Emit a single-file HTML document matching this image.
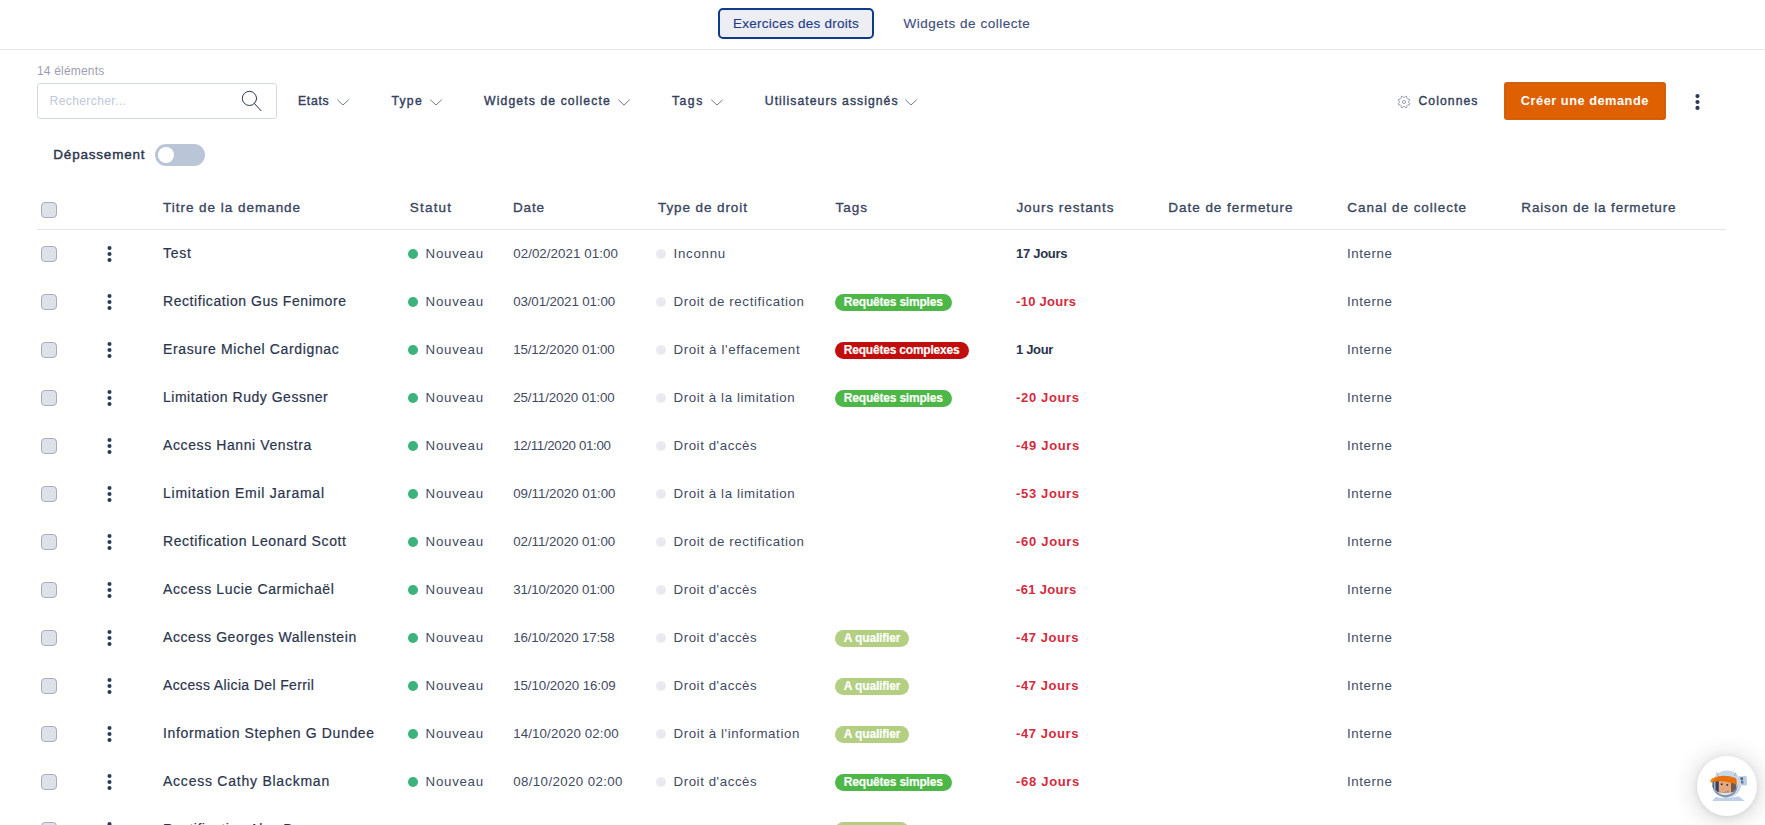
<!DOCTYPE html><html><head><meta charset="utf-8"><title>Exercices des droits</title><style>
html,body{margin:0;padding:0;background:#fff}
body{width:1765px;height:825px;overflow:hidden;position:relative;font-family:"Liberation Sans",sans-serif}
.t{position:absolute;white-space:nowrap;margin:0;padding:0}

.tab{font-size:13.5px;font-weight:400;color:#1f3d86;line-height:16px;height:16px;-webkit-text-stroke:0.15px #1f3d86}
.tab2{font-size:13.5px;font-weight:400;color:#434e7c;line-height:16px;height:16px;-webkit-text-stroke:0.15px #434e7c}
.count{font-size:12px;font-weight:400;color:#9f9db3;line-height:14px;height:14px}
.ph{font-size:12px;font-weight:400;color:#c0c8da;line-height:14px;height:14px}
.flt{font-size:12.2px;font-weight:400;color:#34405c;line-height:16px;height:16px;-webkit-text-stroke:0.4px #34405c}
.btn{font-size:12.8px;font-weight:700;color:#ffffff;line-height:16px;height:16px}
.dep{font-size:13.5px;font-weight:400;color:#2b344d;line-height:16px;height:16px;-webkit-text-stroke:0.4px #2b344d}
.th{font-size:13.5px;font-weight:400;color:#3a4560;line-height:16px;height:16px;-webkit-text-stroke:0.35px #3a4560}
.title{font-size:14px;font-weight:400;color:#2b344d;line-height:16px;height:16px;-webkit-text-stroke:0.2px #2b344d}
.cell{font-size:13.3px;font-weight:400;color:#3f4a63;line-height:16px;height:16px}
.tag{font-size:12px;font-weight:700;color:#ffffff;line-height:14px;height:14px;-webkit-text-stroke:0.15px #ffffff}
.jr{font-size:13px;font-weight:700;color:#d42a40;line-height:16px;height:16px}
.jb{font-size:13px;font-weight:700;color:#2b344d;line-height:16px;height:16px}
.abs{position:absolute}
.topline{position:absolute;left:0;top:49px;width:1765px;height:1px;background:#e6e6ef}
.tabbtn{position:absolute;left:718px;top:8px;width:152px;height:27px;border:2px solid #0f3c86;border-radius:5px;background:#ededf4}
.search{position:absolute;left:37px;top:83px;width:238px;height:34px;border:1px solid #d4d8e1;border-radius:3px;background:#fff}
.cbtn{position:absolute;left:1504px;top:82px;width:162px;height:38px;border-radius:3px;background:#de6000}
.cbtn:after{content:"";position:absolute;left:1px;top:1px;right:1px;bottom:1px;border:1px solid rgba(120,100,80,.24);border-radius:2px}
.toggle{position:absolute;left:155px;top:144px;width:50px;height:22px;border-radius:11px;background:#bac5d7}
.toggle i{position:absolute;left:3px;top:3px;width:16px;height:16px;border-radius:8px;background:#fff}
.hline{position:absolute;left:37px;top:229px;width:1689px;height:1px;background:#e3e5ec}
.cb{position:absolute;left:41px;width:14px;height:14px;border:1px solid #a6aebc;border-radius:4px;background:#dee2e8}
.kbs{fill:#2b3a59}
.kb{position:absolute;width:4px;height:17px}
.kb i{display:block;width:4px;height:4px;border-radius:2px;background:#2c3850;margin-bottom:2.3px}
.dot{position:absolute;width:10px;height:10px;border-radius:5px}
.dot.g{background:#3cb37d}
.dot.y{background:#e9e9ef}
.pill{position:absolute;height:17px;border-radius:8.5px}
.chat{position:absolute;left:1697px;top:756px;width:60px;height:60px;border-radius:30px;background:#fff;box-shadow:0 1px 6px rgba(0,0,0,.08),0 2px 26px rgba(0,0,0,.2)}
svg{position:absolute;overflow:visible}

</style></head><body>
<div class="topline"></div>
<div class="tabbtn"></div>
<div class="search"></div>
<svg style="left:240px;top:89px" width="24" height="24" viewBox="0 0 24 24" fill="none" stroke="#2a3350" stroke-width="1" stroke-linecap="round"><circle cx="9.45" cy="9.4" r="7.1"/><path d="M14.5 14.6 L21 21.7"/></svg>
<svg style="left:337px;top:98.8px" width="12" height="7" viewBox="0 0 12 7" fill="none" stroke="#717a90" stroke-width="1" stroke-linecap="round" stroke-linejoin="round"><path d="M0.6 1 L6 6 L11.4 1"/></svg>
<svg style="left:429.5px;top:98.8px" width="12" height="7" viewBox="0 0 12 7" fill="none" stroke="#717a90" stroke-width="1" stroke-linecap="round" stroke-linejoin="round"><path d="M0.6 1 L6 6 L11.4 1"/></svg>
<svg style="left:618px;top:98.8px" width="12" height="7" viewBox="0 0 12 7" fill="none" stroke="#717a90" stroke-width="1" stroke-linecap="round" stroke-linejoin="round"><path d="M0.6 1 L6 6 L11.4 1"/></svg>
<svg style="left:710.5px;top:98.8px" width="12" height="7" viewBox="0 0 12 7" fill="none" stroke="#717a90" stroke-width="1" stroke-linecap="round" stroke-linejoin="round"><path d="M0.6 1 L6 6 L11.4 1"/></svg>
<svg style="left:905px;top:98.8px" width="12" height="7" viewBox="0 0 12 7" fill="none" stroke="#717a90" stroke-width="1" stroke-linecap="round" stroke-linejoin="round"><path d="M0.6 1 L6 6 L11.4 1"/></svg>
<svg style="left:1398px;top:95.7px" width="12" height="12" viewBox="0 0 12 12" fill="none" stroke="#7d839c" stroke-width="0.75" stroke-linejoin="round"><circle cx="6" cy="6" r="1.6"/><path d="M6.74 1.36 L7.54 0.20 L9.01 0.81 L8.76 2.20 L9.80 3.24 L11.19 2.99 L11.80 4.46 L10.64 5.26 L10.64 6.74 L11.80 7.54 L11.19 9.01 L9.80 8.76 L8.76 9.80 L9.01 11.19 L7.54 11.80 L6.74 10.64 L5.26 10.64 L4.46 11.80 L2.99 11.19 L3.24 9.80 L2.20 8.76 L0.81 9.01 L0.20 7.54 L1.36 6.74 L1.36 5.26 L0.20 4.46 L0.81 2.99 L2.20 3.24 L3.24 2.20 L2.99 0.81 L4.46 0.20 L5.26 1.36Z"/></svg>
<div class="cbtn"></div>
<svg class="kbs" style="left:1695.3px;top:93.1px" width="5" height="18" viewBox="0 0 5 18"><circle cx="2.5" cy="3.1" r="2.1"/><circle cx="2.5" cy="9" r="2.1"/><circle cx="2.5" cy="14.9" r="2.1"/></svg>
<div class="toggle"><i></i></div>
<div class="cb" style="top:201.5px"></div>
<div class="hline"></div>
<div class="chat"></div>
<svg style="left:1705px;top:765px" width="46" height="40" viewBox="0 0 46 40">
<path d="M33.6 11.6 L40.6 10.9 Q41.6 10.9 41.7 11.9 L42 19.4 Q42 20.3 41 20.4 L34 20.6Z" fill="#bccde3"/>
<path d="M35.2 12.6 l2.7 -.3 .2 2.7 -2.7 .2z" fill="#566787"/>
<path d="M35.7 16 l2.6 -.2 .2 2.6 -2.6 .2z" fill="#62728f"/>
<path d="M7.4 35.9 L10.6 32 Q21.5 34.4 33.5 31.2 L39.9 35.9 Z" fill="#bdd0e8"/>
<ellipse cx="21.8" cy="19.1" rx="14.5" ry="13.7" fill="#c8d7ea"/>
<path d="M11.5 7.4 L12.8 10.6 M31.1 7.7 L29.2 11" stroke="#7d8da3" stroke-width="0.7" fill="none"/>
<path d="M7.6 20 Q7.6 30.4 20.5 32.4 Q32.2 31 32.6 20 Z" fill="#8594a6"/>
<path d="M7.2 15 Q7.2 28.6 20.4 30.3 Q32 29 31.9 16 Z" fill="#dce6f2"/>
<path d="M7.6 14.5 L31 14.5 L31 22 Q30 27.2 20.4 27.9 Q9.4 27.2 7.6 22 Z" fill="#46536d"/>
<rect x="8.8" y="15" width="1.9" height="11" fill="#a3b0c2"/>
<rect x="13.6" y="14.8" width="12.4" height="12.9" fill="#eba77c"/>
<path d="M26 15 h5 v8.4 q-1.4 3.4 -5 4z" fill="#6e5c53"/>
<path d="M10.7 15 h2.9 v12.4 q-2 -.8 -2.9 -2.6z" fill="#34425f"/>
<circle cx="16.7" cy="19.3" r="0.95" fill="#1f2d4f"/><circle cx="22.3" cy="19.9" r="0.95" fill="#1f2d4f"/>
<path d="M17.6 23.6 l.9 .3" stroke="#c47c5a" stroke-width="0.6"/>
<path d="M13.8 25 l1 1.6 M20.6 26.6 l3.6 -.3" stroke="#7f93b0" stroke-width="0.9" fill="none"/>
<path d="M5.8 17.6 Q5 14.6 8 13.2 Q18.5 8.4 30.6 13.1 Q31.8 13.8 31.8 19.9 Q19 13.9 5.8 17.6Z" fill="#e6700a"/>
<path d="M5.8 17.6 Q5 14.6 8 13.2 Q12.5 11.2 17 10.7 Q9.6 13 5.8 17.6Z" fill="#f28d14"/>
</svg>

<div class="cb" style="top:246.0px"></div>
<svg class="kbs" style="left:106.5px;top:245.0px" width="5" height="18" viewBox="0 0 5 18"><circle cx="2.5" cy="3" r="2.05"/><circle cx="2.5" cy="9" r="2.05"/><circle cx="2.5" cy="15" r="2.05"/></svg>
<div class="dot g" style="top:248.5px;left:408px"></div>
<div class="dot y" style="top:248.5px;left:656.2px"></div>
<div class="pill" style="left:834.9px;top:293.5px;width:117.1px;background:#4db748"></div>
<div class="cb" style="top:294.0px"></div>
<svg class="kbs" style="left:106.5px;top:293.0px" width="5" height="18" viewBox="0 0 5 18"><circle cx="2.5" cy="3" r="2.05"/><circle cx="2.5" cy="9" r="2.05"/><circle cx="2.5" cy="15" r="2.05"/></svg>
<div class="dot g" style="top:296.5px;left:408px"></div>
<div class="dot y" style="top:296.5px;left:656.2px"></div>
<div class="pill" style="left:834.9px;top:341.5px;width:133.9px;background:#c20d0d"></div>
<div class="cb" style="top:342.0px"></div>
<svg class="kbs" style="left:106.5px;top:341.0px" width="5" height="18" viewBox="0 0 5 18"><circle cx="2.5" cy="3" r="2.05"/><circle cx="2.5" cy="9" r="2.05"/><circle cx="2.5" cy="15" r="2.05"/></svg>
<div class="dot g" style="top:344.5px;left:408px"></div>
<div class="dot y" style="top:344.5px;left:656.2px"></div>
<div class="pill" style="left:834.9px;top:389.5px;width:117.1px;background:#4db748"></div>
<div class="cb" style="top:390.0px"></div>
<svg class="kbs" style="left:106.5px;top:389.0px" width="5" height="18" viewBox="0 0 5 18"><circle cx="2.5" cy="3" r="2.05"/><circle cx="2.5" cy="9" r="2.05"/><circle cx="2.5" cy="15" r="2.05"/></svg>
<div class="dot g" style="top:392.5px;left:408px"></div>
<div class="dot y" style="top:392.5px;left:656.2px"></div>
<div class="cb" style="top:438.0px"></div>
<svg class="kbs" style="left:106.5px;top:437.0px" width="5" height="18" viewBox="0 0 5 18"><circle cx="2.5" cy="3" r="2.05"/><circle cx="2.5" cy="9" r="2.05"/><circle cx="2.5" cy="15" r="2.05"/></svg>
<div class="dot g" style="top:440.5px;left:408px"></div>
<div class="dot y" style="top:440.5px;left:656.2px"></div>
<div class="cb" style="top:486.0px"></div>
<svg class="kbs" style="left:106.5px;top:485.0px" width="5" height="18" viewBox="0 0 5 18"><circle cx="2.5" cy="3" r="2.05"/><circle cx="2.5" cy="9" r="2.05"/><circle cx="2.5" cy="15" r="2.05"/></svg>
<div class="dot g" style="top:488.5px;left:408px"></div>
<div class="dot y" style="top:488.5px;left:656.2px"></div>
<div class="cb" style="top:534.0px"></div>
<svg class="kbs" style="left:106.5px;top:533.0px" width="5" height="18" viewBox="0 0 5 18"><circle cx="2.5" cy="3" r="2.05"/><circle cx="2.5" cy="9" r="2.05"/><circle cx="2.5" cy="15" r="2.05"/></svg>
<div class="dot g" style="top:536.5px;left:408px"></div>
<div class="dot y" style="top:536.5px;left:656.2px"></div>
<div class="cb" style="top:582.0px"></div>
<svg class="kbs" style="left:106.5px;top:581.0px" width="5" height="18" viewBox="0 0 5 18"><circle cx="2.5" cy="3" r="2.05"/><circle cx="2.5" cy="9" r="2.05"/><circle cx="2.5" cy="15" r="2.05"/></svg>
<div class="dot g" style="top:584.5px;left:408px"></div>
<div class="dot y" style="top:584.5px;left:656.2px"></div>
<div class="pill" style="left:834.9px;top:629.5px;width:74.0px;background:#b4cf82"></div>
<div class="cb" style="top:630.0px"></div>
<svg class="kbs" style="left:106.5px;top:629.0px" width="5" height="18" viewBox="0 0 5 18"><circle cx="2.5" cy="3" r="2.05"/><circle cx="2.5" cy="9" r="2.05"/><circle cx="2.5" cy="15" r="2.05"/></svg>
<div class="dot g" style="top:632.5px;left:408px"></div>
<div class="dot y" style="top:632.5px;left:656.2px"></div>
<div class="pill" style="left:834.9px;top:677.5px;width:74.0px;background:#b4cf82"></div>
<div class="cb" style="top:678.0px"></div>
<svg class="kbs" style="left:106.5px;top:677.0px" width="5" height="18" viewBox="0 0 5 18"><circle cx="2.5" cy="3" r="2.05"/><circle cx="2.5" cy="9" r="2.05"/><circle cx="2.5" cy="15" r="2.05"/></svg>
<div class="dot g" style="top:680.5px;left:408px"></div>
<div class="dot y" style="top:680.5px;left:656.2px"></div>
<div class="pill" style="left:834.9px;top:725.5px;width:74.0px;background:#b4cf82"></div>
<div class="cb" style="top:726.0px"></div>
<svg class="kbs" style="left:106.5px;top:725.0px" width="5" height="18" viewBox="0 0 5 18"><circle cx="2.5" cy="3" r="2.05"/><circle cx="2.5" cy="9" r="2.05"/><circle cx="2.5" cy="15" r="2.05"/></svg>
<div class="dot g" style="top:728.5px;left:408px"></div>
<div class="dot y" style="top:728.5px;left:656.2px"></div>
<div class="pill" style="left:834.9px;top:773.5px;width:117.1px;background:#4db748"></div>
<div class="cb" style="top:774.0px"></div>
<svg class="kbs" style="left:106.5px;top:773.0px" width="5" height="18" viewBox="0 0 5 18"><circle cx="2.5" cy="3" r="2.05"/><circle cx="2.5" cy="9" r="2.05"/><circle cx="2.5" cy="15" r="2.05"/></svg>
<div class="dot g" style="top:776.5px;left:408px"></div>
<div class="dot y" style="top:776.5px;left:656.2px"></div>
<div class="pill" style="left:834.9px;top:821.5px;width:74.0px;background:#b4cf82"></div>
<div class="cb" style="top:822.0px"></div>
<svg class="kbs" style="left:106.5px;top:821.0px" width="5" height="18" viewBox="0 0 5 18"><circle cx="2.5" cy="3" r="2.05"/><circle cx="2.5" cy="9" r="2.05"/><circle cx="2.5" cy="15" r="2.05"/></svg>
<div class="dot g" style="top:824.5px;left:408px"></div>
<div class="dot y" style="top:824.5px;left:656.2px"></div>
<span class="t tab" style="left:733.0px;top:15.5px;letter-spacing:0.267px">Exercices des droits</span>
<span class="t tab2" style="left:903.5px;top:15.5px;letter-spacing:0.510px">Widgets de collecte</span>
<span class="t count" style="left:37.0px;top:64.0px;letter-spacing:0.183px">14 éléments</span>
<span class="t ph" style="left:49.6px;top:94.0px;letter-spacing:0.410px">Rechercher...</span>
<span class="t flt" style="left:298.0px;top:93.0px;letter-spacing:0.715px">Etats</span>
<span class="t flt" style="left:391.4px;top:93.0px;letter-spacing:1.308px">Type</span>
<span class="t flt" style="left:484.1px;top:93.0px;letter-spacing:1.109px">Widgets de collecte</span>
<span class="t flt" style="left:672.0px;top:93.0px;letter-spacing:1.500px">Tags</span>
<span class="t flt" style="left:764.8px;top:93.0px;letter-spacing:1.046px">Utilisateurs assignés</span>
<span class="t flt" style="left:1418.5px;top:93.0px;letter-spacing:1.067px">Colonnes</span>
<span class="t btn" style="left:1520.8px;top:93.0px;letter-spacing:0.504px">Créer une demande</span>
<span class="t dep" style="left:53.3px;top:146.5px;letter-spacing:0.800px">Dépassement</span>
<span class="t th" style="left:163.0px;top:199.5px;letter-spacing:0.974px">Titre de la demande</span>
<span class="t th" style="left:409.8px;top:199.5px;letter-spacing:1.203px">Statut</span>
<span class="t th" style="left:513.0px;top:199.5px;letter-spacing:0.820px">Date</span>
<span class="t th" style="left:658.0px;top:199.5px;letter-spacing:0.908px">Type de droit</span>
<span class="t th" style="left:835.6px;top:199.5px;letter-spacing:0.962px">Tags</span>
<span class="t th" style="left:1016.4px;top:199.5px;letter-spacing:0.948px">Jours restants</span>
<span class="t th" style="left:1168.3px;top:199.5px;letter-spacing:0.963px">Date de fermeture</span>
<span class="t th" style="left:1347.3px;top:199.5px;letter-spacing:0.953px">Canal de collecte</span>
<span class="t th" style="left:1521.3px;top:199.5px;letter-spacing:0.843px">Raison de la fermeture</span>
<span class="t title" style="left:163.0px;top:244.5px;letter-spacing:0.718px">Test</span>
<span class="t cell" style="left:425.6px;top:246.0px;letter-spacing:0.718px">Nouveau</span>
<span class="t cell" style="left:513.2px;top:246.0px;letter-spacing:0.075px">02/02/2021 01:00</span>
<span class="t cell" style="left:673.5px;top:246.0px;letter-spacing:0.734px">Inconnu</span>
<span class="t jb" style="left:1016.1px;top:245.5px;letter-spacing:-0.305px">17 Jours</span>
<span class="t cell" style="left:1347.1px;top:246.0px;letter-spacing:0.568px">Interne</span>
<span class="t title" style="left:163.0px;top:292.5px;letter-spacing:0.563px">Rectification Gus Fenimore</span>
<span class="t cell" style="left:425.6px;top:294.0px;letter-spacing:0.718px">Nouveau</span>
<span class="t cell" style="left:513.2px;top:294.0px;letter-spacing:-0.105px">03/01/2021 01:00</span>
<span class="t cell" style="left:673.5px;top:294.0px;letter-spacing:0.618px">Droit de rectification</span>
<span class="t tag" style="left:843.8px;top:295.0px;letter-spacing:-0.197px">Requêtes simples</span>
<span class="t jr" style="left:1016.1px;top:293.5px;letter-spacing:0.269px">-10 Jours</span>
<span class="t cell" style="left:1347.1px;top:294.0px;letter-spacing:0.568px">Interne</span>
<span class="t title" style="left:163.0px;top:340.5px;letter-spacing:0.639px">Erasure Michel Cardignac</span>
<span class="t cell" style="left:425.6px;top:342.0px;letter-spacing:0.718px">Nouveau</span>
<span class="t cell" style="left:513.2px;top:342.0px;letter-spacing:-0.131px">15/12/2020 01:00</span>
<span class="t cell" style="left:673.5px;top:342.0px;letter-spacing:0.641px">Droit à l'effacement</span>
<span class="t tag" style="left:843.8px;top:343.0px;letter-spacing:-0.205px">Requêtes complexes</span>
<span class="t jb" style="left:1016.1px;top:341.5px;letter-spacing:-0.348px">1 Jour</span>
<span class="t cell" style="left:1347.1px;top:342.0px;letter-spacing:0.568px">Interne</span>
<span class="t title" style="left:163.0px;top:388.5px;letter-spacing:0.520px">Limitation Rudy Gessner</span>
<span class="t cell" style="left:425.6px;top:390.0px;letter-spacing:0.718px">Nouveau</span>
<span class="t cell" style="left:513.2px;top:390.0px;letter-spacing:-0.068px">25/11/2020 01:00</span>
<span class="t cell" style="left:673.5px;top:390.0px;letter-spacing:0.591px">Droit à la limitation</span>
<span class="t tag" style="left:843.8px;top:391.0px;letter-spacing:-0.197px">Requêtes simples</span>
<span class="t jr" style="left:1016.1px;top:389.5px;letter-spacing:0.634px">-20 Jours</span>
<span class="t cell" style="left:1347.1px;top:390.0px;letter-spacing:0.568px">Interne</span>
<span class="t title" style="left:163.0px;top:436.5px;letter-spacing:0.602px">Access Hanni Venstra</span>
<span class="t cell" style="left:425.6px;top:438.0px;letter-spacing:0.718px">Nouveau</span>
<span class="t cell" style="left:513.2px;top:438.0px;letter-spacing:-0.319px">12/11/2020 01:00</span>
<span class="t cell" style="left:673.5px;top:438.0px;letter-spacing:0.564px">Droit d'accès</span>
<span class="t jr" style="left:1016.1px;top:437.5px;letter-spacing:0.681px">-49 Jours</span>
<span class="t cell" style="left:1347.1px;top:438.0px;letter-spacing:0.568px">Interne</span>
<span class="t title" style="left:163.0px;top:484.5px;letter-spacing:0.741px">Limitation Emil Jaramal</span>
<span class="t cell" style="left:425.6px;top:486.0px;letter-spacing:0.718px">Nouveau</span>
<span class="t cell" style="left:513.2px;top:486.0px;letter-spacing:-0.016px">09/11/2020 01:00</span>
<span class="t cell" style="left:673.5px;top:486.0px;letter-spacing:0.591px">Droit à la limitation</span>
<span class="t jr" style="left:1016.1px;top:485.5px;letter-spacing:0.634px">-53 Jours</span>
<span class="t cell" style="left:1347.1px;top:486.0px;letter-spacing:0.568px">Interne</span>
<span class="t title" style="left:163.0px;top:532.5px;letter-spacing:0.599px">Rectification Leonard Scott</span>
<span class="t cell" style="left:425.6px;top:534.0px;letter-spacing:0.718px">Nouveau</span>
<span class="t cell" style="left:513.2px;top:534.0px;letter-spacing:-0.035px">02/11/2020 01:00</span>
<span class="t cell" style="left:673.5px;top:534.0px;letter-spacing:0.618px">Droit de rectification</span>
<span class="t jr" style="left:1016.1px;top:533.5px;letter-spacing:0.681px">-60 Jours</span>
<span class="t cell" style="left:1347.1px;top:534.0px;letter-spacing:0.568px">Interne</span>
<span class="t title" style="left:163.0px;top:580.5px;letter-spacing:0.623px">Access Lucie Carmichaël</span>
<span class="t cell" style="left:425.6px;top:582.0px;letter-spacing:0.718px">Nouveau</span>
<span class="t cell" style="left:513.2px;top:582.0px;letter-spacing:-0.131px">31/10/2020 01:00</span>
<span class="t cell" style="left:673.5px;top:582.0px;letter-spacing:0.564px">Droit d'accès</span>
<span class="t jr" style="left:1016.1px;top:581.5px;letter-spacing:0.293px">-61 Jours</span>
<span class="t cell" style="left:1347.1px;top:582.0px;letter-spacing:0.568px">Interne</span>
<span class="t title" style="left:163.0px;top:628.5px;letter-spacing:0.590px">Access Georges Wallenstein</span>
<span class="t cell" style="left:425.6px;top:630.0px;letter-spacing:0.718px">Nouveau</span>
<span class="t cell" style="left:513.2px;top:630.0px;letter-spacing:-0.131px">16/10/2020 17:58</span>
<span class="t cell" style="left:673.5px;top:630.0px;letter-spacing:0.564px">Droit d'accès</span>
<span class="t tag" style="left:843.8px;top:631.0px;letter-spacing:-0.156px">A qualifier</span>
<span class="t jr" style="left:1016.1px;top:629.5px;letter-spacing:0.563px">-47 Jours</span>
<span class="t cell" style="left:1347.1px;top:630.0px;letter-spacing:0.568px">Interne</span>
<span class="t title" style="left:163.0px;top:676.5px;letter-spacing:0.371px">Access Alicia Del Ferril</span>
<span class="t cell" style="left:425.6px;top:678.0px;letter-spacing:0.718px">Nouveau</span>
<span class="t cell" style="left:513.2px;top:678.0px;letter-spacing:-0.067px">15/10/2020 16:09</span>
<span class="t cell" style="left:673.5px;top:678.0px;letter-spacing:0.564px">Droit d'accès</span>
<span class="t tag" style="left:843.8px;top:679.0px;letter-spacing:-0.156px">A qualifier</span>
<span class="t jr" style="left:1016.1px;top:677.5px;letter-spacing:0.563px">-47 Jours</span>
<span class="t cell" style="left:1347.1px;top:678.0px;letter-spacing:0.568px">Interne</span>
<span class="t title" style="left:163.0px;top:724.5px;letter-spacing:0.640px">Information Stephen G Dundee</span>
<span class="t cell" style="left:425.6px;top:726.0px;letter-spacing:0.718px">Nouveau</span>
<span class="t cell" style="left:513.2px;top:726.0px;letter-spacing:0.127px">14/10/2020 02:00</span>
<span class="t cell" style="left:673.5px;top:726.0px;letter-spacing:0.583px">Droit à l'information</span>
<span class="t tag" style="left:843.8px;top:727.0px;letter-spacing:-0.156px">A qualifier</span>
<span class="t jr" style="left:1016.1px;top:725.5px;letter-spacing:0.563px">-47 Jours</span>
<span class="t cell" style="left:1347.1px;top:726.0px;letter-spacing:0.568px">Interne</span>
<span class="t title" style="left:163.0px;top:772.5px;letter-spacing:0.763px">Access Cathy Blackman</span>
<span class="t cell" style="left:425.6px;top:774.0px;letter-spacing:0.718px">Nouveau</span>
<span class="t cell" style="left:513.2px;top:774.0px;letter-spacing:0.385px">08/10/2020 02:00</span>
<span class="t cell" style="left:673.5px;top:774.0px;letter-spacing:0.564px">Droit d'accès</span>
<span class="t tag" style="left:843.8px;top:775.0px;letter-spacing:-0.197px">Requêtes simples</span>
<span class="t jr" style="left:1016.1px;top:773.5px;letter-spacing:0.681px">-68 Jours</span>
<span class="t cell" style="left:1347.1px;top:774.0px;letter-spacing:0.568px">Interne</span>
<span class="t title" style="left:163.0px;top:820.5px;letter-spacing:0.509px">Rectification Alex Baumer</span>
<span class="t cell" style="left:425.6px;top:822.0px;letter-spacing:0.573px">Fermé</span>
<span class="t cell" style="left:513.2px;top:822.0px;letter-spacing:0.385px">10/09/2020 02:00</span>
<span class="t cell" style="left:673.5px;top:822.0px;letter-spacing:0.641px">Droit à l'effacement</span>
<span class="t tag" style="left:843.8px;top:823.0px;letter-spacing:-0.156px">A qualifier</span>
<span class="t jr" style="left:1016.1px;top:821.5px;letter-spacing:0.311px">-103 Jours</span>
<span class="t cell" style="left:1168.3px;top:822.0px;letter-spacing:0.030px">19/10/2020 14:32</span>
<span class="t cell" style="left:1347.1px;top:822.0px;letter-spacing:0.568px">Interne</span>
</body></html>
